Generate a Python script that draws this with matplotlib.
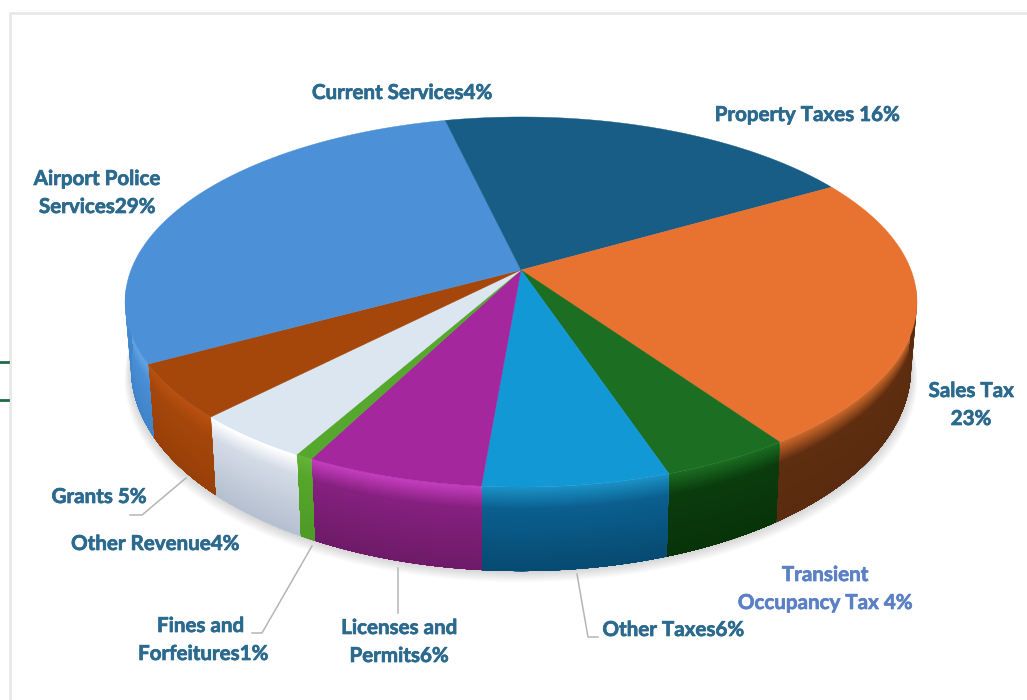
import numpy as np
import matplotlib
matplotlib.use('Agg')
import matplotlib.pyplot as plt
import matplotlib.patheffects as pe
from matplotlib.colors import to_rgb
from matplotlib.patches import Polygon

plt.rcParams['font.family'] = ['Lato', 'DejaVu Sans']

#%% Revenue shares [%], clockwise from 12 o'clock (unrounded, labels show whole percents):
names = ['Property Taxes ', 'Sales Tax\n', 'Transient\nOccupancy Tax ', 'Other Taxes',
         'Licenses and\nPermits', 'Fines and \nForfeitures', 'Other Revenue', 'Grants ',
         'Airport Police\nServices', 'Current Services']
shares = [16.45, 23.45, 4.45, 6.4, 6.1, 0.6, 4.1, 4.7, 29.0, 3.6]

#%% Styles:
top_colors = ['#175d85', '#e8722f', '#1b6e22', '#1398d6', '#a4279e',
              '#55a82d', '#dce6f1', '#a5470b', '#4c90d8', '#175d85']
# wall gradient, top edge -> bottom edge
wall_colors = [['#175d85', '#0f4666', '#0f4666'],
               ['#c9662a', '#5f2e10', '#5a2b0f'],
               ['#1a6a20', '#0a3c0e', '#083309'],
               ['#1a8fc4', '#0b5f8e', '#064a72'],
               ['#c23cbc', '#86207f', '#6d1a68'],
               ['#62b336', '#55a62a', '#4d9a26'],
               ['#ffffff', '#d3dbe6', '#b4bfcf'],
               ['#b8500f', '#a5470b', '#983f08'],
               ['#63a5e6', '#4a8fd6', '#3f83c9'],
               ['#175d85', '#0f4666', '#0f4666']]
label_color = '#2b6a8e'
label_colors = [label_color, label_color, '#5b80c6'] + [label_color]*7
label_xy = [(807, 115), (971, 405), (825, 589), (673, 630), (399, 642),
            (203, 640), (155, 544), (99, 497), (97, 193), (402, 93)]
leaders = [[(186, 478), (142, 515), (130, 515)],
           [(312, 546), (262, 633), (252, 633)],
           [(398, 568), (398, 613)],
           [(577, 574), (588, 637), (598, 637)]]

#%% Pie geometry (pixels):
xc, yc = 521, 270    # apex of the pie
a, b = 390, 179.5    # radii before perspective
k = 0.173            # perspective factor
N_strips = 36

def rim(theta):
    u, v = np.sin(theta), np.cos(theta)
    d = 1 + k*v
    return xc + a*u/d, yc - b*v/d

def rim_bottom(theta):
    x, y = rim(theta)
    depth = 62 - 22*np.minimum(np.cos(theta), 0)
    return xc + (x - xc)*0.985, y + depth

def blend(stops, f):
    stops = [np.array(to_rgb(c)) for c in stops]
    if f < 0.25:
        return stops[0] + (stops[1] - stops[0])*f/0.25
    return stops[1] + (stops[2] - stops[1])*(f - 0.25)/0.75

fractions = np.array(shares)/np.sum(shares)
edges = np.concatenate(([0], np.cumsum(fractions)))*2*np.pi

#%% Figure:
fig = plt.figure(figsize=(10.27, 7.0), dpi=100)
ax = fig.add_axes([0, 0, 1, 1])
ax.set_xlim(0, 1027)
ax.set_ylim(700, 0)
ax.axis('off')

# panel border and the cut-off marks on the left
ax.plot([10, 10, 1027], [700, 13, 13], color='#e8e8e8', lw=2, zorder=1)
ax.plot([0, 8], [362, 362], color='#1d6b45', lw=2, zorder=1)
ax.plot([0, 8], [400, 400], color='#1d6b45', lw=2, zorder=1)

#%% Soft shadow under the pie:
t_shadow = np.linspace(np.radians(70), np.radians(290), 200)
xs, ys = rim_bottom(t_shadow)
for i in range(14, 0, -1):
    sx = xc + (xs - xc)*(1 + i*0.0012)
    sy = ys + i*0.8
    ax.add_patch(Polygon(np.column_stack((sx, sy)), closed=True, fc='#808080', ec='none',
                         alpha=0.025, zorder=2))

#%% Side walls, only the part that faces the viewer:
vis_min, vis_max = np.radians(95), np.radians(265)
for i in range(len(shares)):
    t0, t1 = max(edges[i], vis_min), min(edges[i+1], vis_max)
    if t1 <= t0:
        continue
    t = np.linspace(t0, t1, 60)
    xt, yt = rim(t)
    xb, yb = rim_bottom(t)
    # each strip runs down to the bottom edge, the next one paints over it
    for s in range(N_strips):
        f0 = s/N_strips
        x_up, y_up = xt + (xb - xt)*f0, yt + (yb - yt)*f0
        col = blend(wall_colors[i], f0)
        pts = np.column_stack((np.r_[x_up, xb[::-1]], np.r_[y_up, yb[::-1]]))
        ax.add_patch(Polygon(pts, closed=True, fc=col, ec='none', zorder=3))

#%% Top face:
for i in range(len(shares)):
    t = np.linspace(edges[i], edges[i+1], 80)
    x, y = rim(t)
    pts = np.column_stack((np.r_[xc, x], np.r_[yc, y]))
    ax.add_patch(Polygon(pts, closed=True, fc=top_colors[i], ec=top_colors[i], lw=0.3, zorder=4))

#%% Labels and leader lines:
for i in range(len(names)):
    txt = ax.text(label_xy[i][0], label_xy[i][1], '%s%.0f%%' % (names[i], shares[i]), color=label_colors[i],
                  fontsize=14.8, fontweight='bold', ha='center', va='center', linespacing=1.5, zorder=6)
    txt.set_path_effects([pe.withStroke(linewidth=0.5, foreground=label_colors[i])])

for line in leaders:
    ax.plot([p[0] for p in line], [p[1] for p in line], color='#b5b5b5', lw=1.1, zorder=5)

fig.savefig('out.png', dpi=100)
